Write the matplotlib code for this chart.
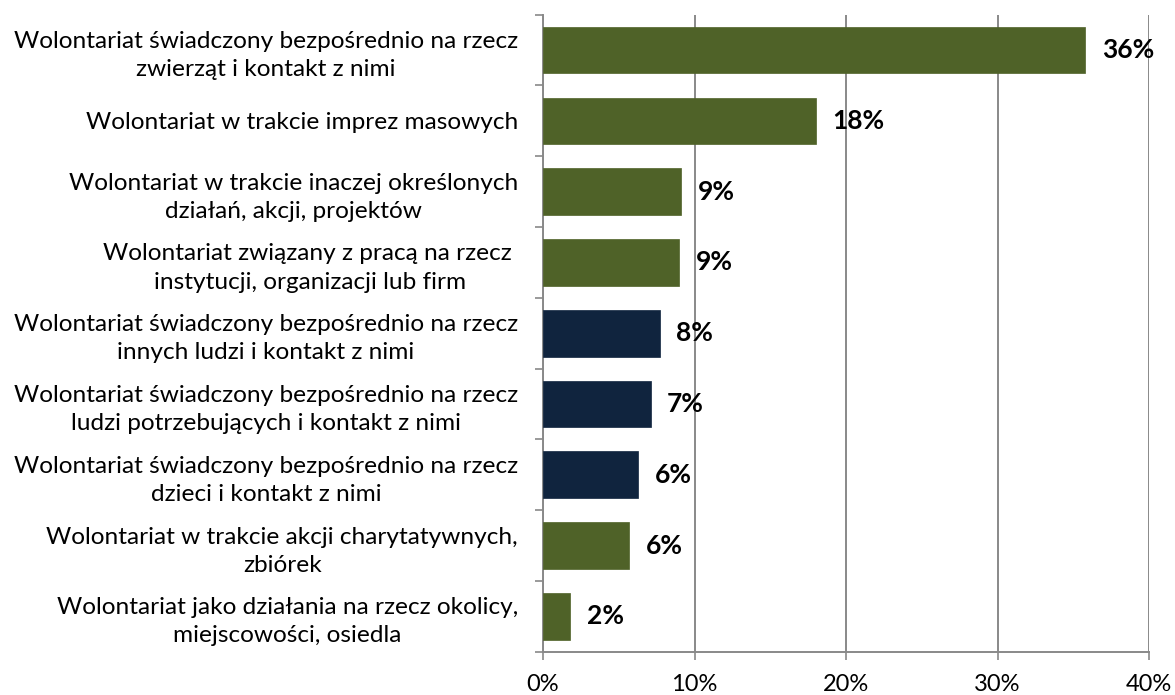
import matplotlib.pyplot as plt
from matplotlib.ticker import FixedLocator

# dane
categories = [
    "Wolontariat świadczony bezpośrednio na rzecz\nzwierząt i kontakt z nimi",
    "Wolontariat w trakcie imprez masowych",
    "Wolontariat w trakcie inaczej określonych\ndziałań, akcji, projektów",
    "Wolontariat związany z pracą na rzecz \ninstytucji, organizacji lub firm",
    "Wolontariat świadczony bezpośrednio na rzecz\ninnych ludzi i kontakt z nimi",
    "Wolontariat świadczony bezpośrednio na rzecz\nludzi potrzebujących i kontakt z nimi",
    "Wolontariat świadczony bezpośrednio na rzecz\ndzieci i kontakt z nimi",
    "Wolontariat w trakcie akcji charytatywnych,\nzbiórek",
    "Wolontariat jako działania na rzecz okolicy,\nmiejscowości, osiedla",
]
values = [35.8, 18.0, 9.1, 9.0, 7.7, 7.1, 6.3, 5.7, 1.8]
groups = ["g", "g", "g", "g", "b", "b", "b", "g", "g"]
xticks = [0, 10, 20, 30, 40]

green = "#4F6228"
navy = "#10243E"
grid_c = "#898989"

plt.rcParams['font.family'] = ['Lato', 'DejaVu Sans']

fig = plt.figure(figsize=(11.75, 6.95), dpi=100)
ax = fig.add_axes([543 / 1175, 1 - 651.7 / 695, (1149 - 543) / 1175, (651.7 - 14.7) / 695])

colors = [green if g == "g" else navy for g in groups]
y = list(range(len(values)))
ax.barh(y, values, height=0.66, color=colors, edgecolor=colors, linewidth=0.5, zorder=3)

for yi, v in zip(y, values):
    ax.annotate(f"{v:.0f}%", (v, yi), xytext=(12, 0), textcoords="offset points",
                ha="left", va="center", fontsize=19, fontweight="bold", zorder=4)

ax.set_xlim(0, 40)
ax.set_ylim(len(values) - 0.5, -0.5)
ax.set_xticks(xticks)
ax.set_xticklabels([f"{t}%" for t in xticks], fontsize=17)
ax.set_yticks(y)
ax.set_yticklabels(categories, fontsize=17.6, multialignment="center", linespacing=1.42)
ax.yaxis.set_minor_locator(FixedLocator([i - 0.5 for i in range(len(values) + 1)]))

ax.tick_params(axis="y", which="major", length=0, pad=18)
ax.tick_params(axis="y", which="minor", length=6, width=1.2, color=grid_c)
ax.tick_params(axis="x", length=6, width=1.2, color=grid_c, pad=10)

ax.grid(axis="x", color=grid_c, linewidth=1.4, zorder=0)
for s in ["top", "right"]:
    ax.spines[s].set_visible(False)
for s in ["left", "bottom"]:
    ax.spines[s].set_color(grid_c)
    ax.spines[s].set_linewidth(1.4)

fig.savefig("out.png", dpi=100)
